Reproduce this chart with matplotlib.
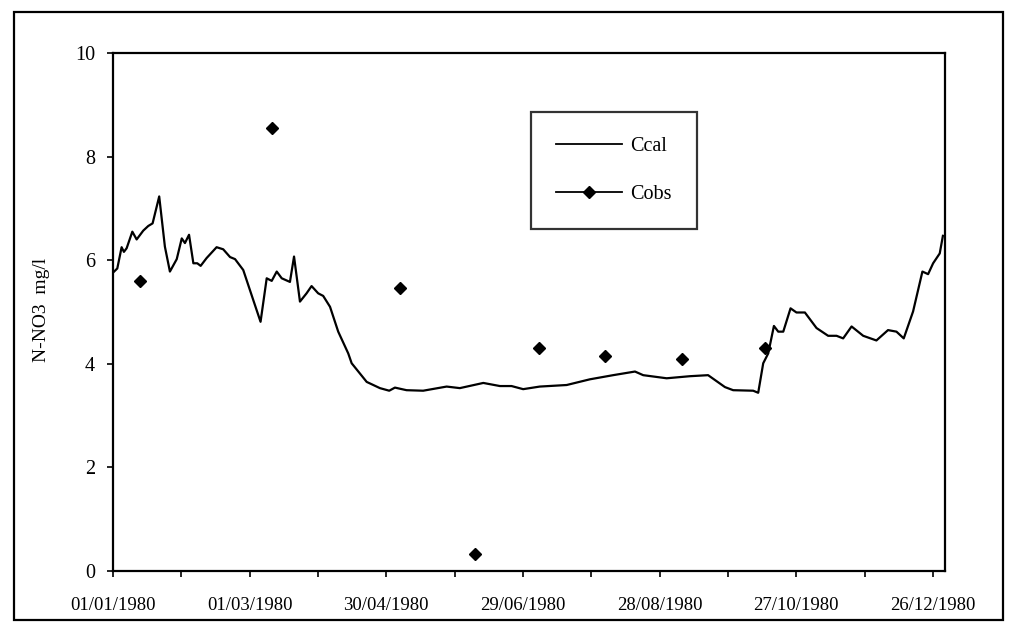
import numpy as np
import matplotlib
matplotlib.use('Agg')
from matplotlib import pyplot as plt
from matplotlib.patches import Rectangle

# Ccal: simulated concentration (day of year 1980, mg/l)
ccal_days = [0.5, 1.9, 3.8, 4.8, 6.0, 8.5, 10.4, 13.3, 15.5, 17.4, 20.3, 22.8, 25.0, 28.0,
             30.2, 31.6, 33.4, 35.3, 37.0, 38.5, 41.1, 45.5, 48.4, 51.4, 53.6, 57.2, 61.6,
             64.8, 67.5, 69.7, 71.9, 74.1, 77.7, 79.5, 82.1, 85.0, 87.2, 90.1, 92.3, 95.3,
             98.9, 103.3, 104.8, 111.4, 117.2, 121.3, 123.8, 128.9, 136.2, 146.5, 152.3,
             162.6, 169.9, 175.0, 180.1, 187.4, 199.2, 209.4, 219.6, 229.2, 232.8, 243.1,
             253.3, 261.3, 268.7, 272.3, 281.1, 283.3, 285.5, 287.7, 290.2, 292.1, 294.3,
             297.5, 300.1, 303.8, 308.9, 314.0, 317.7, 320.6, 324.3, 329.4, 335.2, 340.3,
             344.0, 347.2, 351.3, 355.4, 357.9, 360.1, 363.0, 364.4]
ccal_vals = [5.78, 5.84, 6.25, 6.16, 6.23, 6.55, 6.40, 6.57, 6.66, 6.71, 7.23, 6.26, 5.78, 6.02,
             6.42, 6.33, 6.49, 5.94, 5.94, 5.89, 6.04, 6.25, 6.21, 6.06, 6.02, 5.81, 5.23,
             4.81, 5.65, 5.60, 5.78, 5.65, 5.58, 6.07, 5.20, 5.36, 5.50, 5.36, 5.31, 5.10,
             4.62, 4.20, 4.01, 3.65, 3.53, 3.48, 3.54, 3.49, 3.48, 3.56, 3.53,
             3.63, 3.57, 3.57, 3.51, 3.56, 3.59, 3.70, 3.78, 3.85, 3.78, 3.72,
             3.76, 3.78, 3.55, 3.49, 3.48, 3.44, 4.01, 4.20, 4.73, 4.62, 4.62,
             5.07, 4.99, 4.99, 4.69, 4.54, 4.54, 4.49, 4.72, 4.54, 4.45, 4.65,
             4.62, 4.49, 5.01, 5.78, 5.73, 5.94, 6.13, 6.47]

# Cobs: observed concentration
cobs_days = [12, 70, 126, 159, 187, 216, 250, 286.5]
cobs_vals = [5.6, 8.55, 5.46, 0.33, 4.3, 4.15, 4.1, 4.3]

tick_labels = ['01/01/1980', '01/03/1980', '30/04/1980', '29/06/1980',
               '28/08/1980', '27/10/1980', '26/12/1980']

start = np.datetime64('1980-01-01T00:00')
to_dates = lambda d: start + (np.array(d) * 24 * 60).astype('timedelta64[m]')

plt.rcParams['font.family'] = ['Liberation Serif', 'DejaVu Serif']

fig = plt.figure(figsize=(10.15, 6.31), dpi=100)
ax = fig.add_axes([0.1113, 0.0951, 0.8197, 0.821])

ax.plot(to_dates(ccal_days), ccal_vals, color='black', lw=1.6, label='Ccal')
ax.plot(to_dates(cobs_days), cobs_vals, color='black', lw=0, marker='D', ms=6.5, label='Cobs')

ax.set_xlim(to_dates([0])[0], to_dates([365.3])[0])
ax.set_ylim(0, 10)
ax.set_yticks([0, 2, 4, 6, 8, 10])

major = to_dates(np.arange(0, 361, 60))
minor = to_dates(np.arange(30, 361, 60))
ax.set_xticks(major)
ax.set_xticklabels(tick_labels)
ax.set_xticks(minor, minor=True)

ax.tick_params(axis='x', which='both', direction='out', length=4, width=1.2, pad=15, labelsize=13.5)
ax.tick_params(axis='y', direction='out', length=4, width=1.2, pad=9, labelsize=14.5)
for s in ax.spines.values():
    s.set_linewidth(1.6)

leg_handles = [plt.Line2D([], [], color='black', lw=1.3),
               plt.Line2D([], [], color='black', lw=1.3, marker='D', ms=6.5)]
leg = ax.legend(leg_handles, ['Ccal', 'Cobs'], loc='upper left', bbox_to_anchor=(0.502, 0.886),
                borderaxespad=0, frameon=True, fancybox=False, edgecolor='black',
                fontsize=14.5, handlelength=3.3, handletextpad=0.4, labelspacing=1.4,
                borderpad=1.25)
leg.get_frame().set_linewidth(1.6)

fig.text(42 / 1015, 1 - 310 / 631, 'N-NO3  mg/l', rotation=90, ha='center', va='center', fontsize=14)

fig.patches.append(Rectangle((14 / 1015, 1 - 620 / 631), 989 / 1015, 608 / 631,
                             transform=fig.transFigure, fill=False, edgecolor='black', lw=1.6))

fig.savefig('out.png', dpi=100)
